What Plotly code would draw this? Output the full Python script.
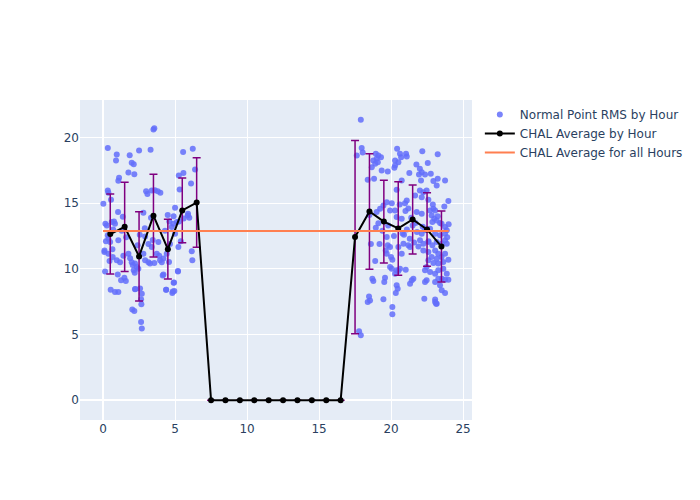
import plotly.graph_objects as go

# Scatter: Normal Point RMS by Hour (hour, rms)
pt_hour = [
    3.5, 3.56, 0.33, 0.95, 0.9, 1.85, 2.5, 3.3, 1.99, 2.13, 1.76, 2.17, 1.11, 1.06,
    0.33, 0.37, 0.55, 0.02, 1.04, 1.37, 0.76, 0.16, 2.99, 3.08, 3.38, 3.6, 3.8, 3.98,
    2.8, 3.33, 4.49, 5.0, 4.9, 5.56, 6.23, 6.39, 6.11, 5.26, 5.58, 5.32, 5.88, 5.99,
    5.28, 5.6,
    0.26, 0.6, 0.83, 0.33, 0.37, 0.49, 0.09, 0.37, 0.65, 0.67, 1.06, 0.95, 1.18,
    1.41, 1.76, 1.88, 0.14, 1.02, 1.25, 1.48, 1.58, 0.53, 0.83, 1.06, 1.99, 2.22,
    2.34, 2.45, 2.06, 2.13, 2.2, 2.22, 2.03, 2.17, 2.64, 2.66, 2.64, 2.69, 2.92,
    3.15, 3.38, 2.8, 2.92, 3.15, 3.26, 3.56, 3.96, 4.08, 3.73, 3.84, 4.19, 4.38,
    4.9, 4.95, 4.81, 5.2, 4.42, 4.19, 4.58, 5.0, 4.77, 5.23, 4.65, 6.16, 6.2, 5.12,
    4.88, 2.24, 2.57, 2.69, 4.38, 4.84, 4.93, 5.2, 4.14,
    0.1, 0.2, 0.45, 0.7, 1.3, 1.6, 2.4, 2.55, 2.9, 3.45, 3.9, 4.3, 4.6, 5.4, 5.9,
    17.9, 17.96, 18.03, 17.62, 18.94, 19.12, 19.3, 19.0, 18.77, 18.9, 18.66, 19.08,
    19.35, 19.77, 18.38, 18.82, 20.42, 20.62, 21.04, 21.09, 20.7, 20.28, 20.51,
    20.28, 20.23, 22.17, 23.24, 21.76, 22.55, 22.0, 22.13, 22.36, 22.76, 21.94,
    21.27, 22.08, 22.94, 23.24, 23.75, 23.17, 20.39, 20.74, 19.7, 20.05, 19.93,
    20.28, 21.09, 20.97, 21.67, 22.0, 22.24, 22.47, 22.59, 22.13, 23.98, 23.7,
    22.94, 22.71, 23.06, 19.24, 19.47, 19.0, 20.39, 20.74, 21.78, 22.13, 22.82,
    23.0, 23.24,
    18.94, 19.12, 19.7, 19.77, 19.93, 19.63, 19.7, 20.51, 20.86, 20.74, 21.2, 21.32,
    20.0, 20.09, 19.93, 20.05, 20.39, 20.51, 20.28, 20.62, 21.02, 18.7, 18.77, 19.58,
    19.53, 20.39, 20.46, 20.33, 21.32, 21.44, 21.55, 18.47, 18.38, 18.54, 19.47,
    20.09, 20.09, 17.78, 17.9, 22.31, 23.06, 23.13,
    22.87, 23.17, 23.51, 23.75, 23.87, 23.75, 23.4, 23.06, 22.71, 22.36, 22.13,
    22.01, 22.24, 22.59, 22.87, 23.17, 23.52, 23.75, 23.87, 22.24, 22.59, 23.06,
    23.28, 22.82, 23.17, 23.51, 23.75, 23.98, 23.63, 23.28, 22.94, 22.59, 22.47,
    22.36, 22.71, 23.06, 23.28, 23.63, 23.87, 23.52, 23.75, 23.98, 23.28, 23.06,
    22.47, 22.36, 23.4, 23.75, 23.52, 23.06, 23.17,
    20.9, 21.1, 21.3, 21.5, 21.6, 21.8, 21.4, 21.2, 20.8, 19.4, 19.8, 18.5, 18.6,
    20.2, 21.7, 21.9, 22.2, 22.6, 21.0, 19.2, 18.9, 20.6, 22.9, 23.4, 24.0, 23.9,
]
pt_rms = [
    20.6, 20.7, 19.2, 18.7, 18.25, 18.65, 19.0, 19.06, 18.07, 17.97, 17.34, 17.2, 16.93, 16.7,
    15.97, 15.8, 15.26, 14.96, 14.32, 13.97, 13.6, 13.44, 15.9, 15.7, 15.97, 15.99, 15.9, 15.8,
    14.27, 13.9, 14.1, 14.65, 14.0, 18.9, 19.14, 17.57, 16.5, 17.1, 17.3, 16.04, 14.07, 13.9,
    13.6, 13.84,
    13.3, 13.56, 13.43, 12.55, 12.3, 12.04, 11.28, 11.15, 11.5, 10.9, 12.17, 10.65, 10.5,
    11.0, 11.15, 10.8, 9.8, 9.58, 9.13, 9.33, 9.07, 8.42, 8.24, 8.24, 10.5, 10.4,
    10.14, 10.0, 10.3, 9.9, 9.7, 8.44, 6.9, 6.79, 7.68, 7.3, 5.95, 5.47, 12.47,
    11.9, 11.66, 11.15, 10.65, 10.5, 10.4, 10.44, 10.65, 10.5, 11.15, 12.04, 9.58, 8.42,
    8.95, 8.31, 8.16, 9.83, 11.15, 10.78, 10.52, 12.68, 13.18, 11.66, 11.9, 11.35, 10.65, 13.56,
    13.43, 8.47, 8.5, 8.1, 8.42, 8.27, 8.97, 9.8, 9.5,
    11.4, 12.1, 10.6, 13.0, 12.9, 12.4, 11.8, 12.6, 13.1, 12.2, 11.0, 12.9, 13.6, 12.1, 14.2,
    21.35, 19.2, 18.86, 18.63, 18.76, 18.63, 18.5, 18.38, 18.25, 18.0, 17.74, 18.12,
    17.49, 17.41, 16.78, 16.86, 19.14, 18.76, 18.76, 18.55, 18.5, 18.25, 18.12,
    17.87, 17.7, 18.96, 18.73, 17.95, 18.05, 17.62, 17.36, 17.19, 17.24, 17.19,
    17.29, 16.73, 16.68, 16.86, 16.73, 16.35, 16.02, 16.73, 15.08, 15.0, 14.45,
    14.45, 15.2, 15.0, 15.59, 15.97, 15.84, 15.97, 15.26, 15.46, 15.16, 14.75,
    14.58, 14.45, 14.45, 14.58, 14.83, 14.32, 13.94, 13.82, 14.32, 14.2, 14.07,
    13.82, 14.0,
    13.13, 13.48, 12.42, 11.79, 11.66, 11.4, 11.15, 11.66, 11.92, 11.15, 11.79, 11.66,
    10.9, 10.7, 10.14, 10.0, 9.89, 9.83, 9.63, 10.0, 9.94, 9.25, 9.07, 9.33,
    9.0, 8.75, 8.49, 8.16, 8.87, 9.13, 9.25, 7.9, 7.48, 7.6, 7.68,
    7.1, 6.54, 5.25, 4.94, 7.73, 7.66, 7.35,
    13.56, 13.69, 13.44, 13.18, 12.93, 12.68, 12.55, 12.68, 13.06, 12.93, 12.68,
    12.17, 11.92, 12.04, 11.79, 12.04, 11.92, 12.17, 11.92, 11.4, 11.28, 11.4,
    11.15, 10.9, 10.77, 10.9, 11.15, 10.7, 10.52, 10.4, 10.44, 10.65, 10.14,
    9.89, 9.76, 9.63, 9.89, 10.01, 9.63, 9.25, 9.18, 9.18, 9.25, 9.0,
    9.13, 9.0, 8.75, 8.16, 8.37, 7.48, 7.35,
    12.6, 13.0, 12.3, 13.3, 12.0, 12.8, 13.9, 14.6, 12.7, 12.9, 13.3, 14.1, 11.9,
    12.5, 13.5, 11.7, 13.2, 12.1, 14.4, 11.9, 10.6, 14.9, 14.9, 13.5, 13.4, 12.4,
]

# CHAL average by hour (+/- std)
avg_hour = [0.5, 1.5, 2.5, 3.5, 4.5, 5.5, 6.5, 7.5, 8.5, 9.5, 10.5, 11.5, 12.5,
            13.5, 14.5, 15.5, 16.5, 17.5, 18.5, 19.5, 20.5, 21.5, 22.5, 23.5]
avg_rms = [12.65, 13.2, 10.95, 14.05, 11.5, 14.45, 15.05, 0, 0, 0, 0, 0, 0,
           0, 0, 0, 0, 12.42, 14.37, 13.6, 13.08, 13.76, 13.0, 11.7]
avg_std = [3.05, 3.4, 3.4, 3.15, 2.27, 2.46, 3.4, 0, 0, 0, 0, 0, 0,
           0, 0, 0, 0, 7.35, 4.4, 3.15, 3.56, 2.63, 2.8, 2.7]

overall_x = [0, 24]
overall_avg = 12.88

fig = go.Figure()
fig.add_trace(go.Scatter(
    x=pt_hour, y=pt_rms, mode="markers", name="Normal Point RMS by Hour",
    marker=dict(color="#636efa", size=6, opacity=0.85),
))
fig.add_trace(go.Scatter(
    x=avg_hour, y=avg_rms, mode="lines+markers", name="CHAL Average by Hour",
    line=dict(color="black", width=2),
    marker=dict(color="black", size=6),
    error_y=dict(type="data", array=avg_std, visible=True, color="purple",
                 thickness=1.5, width=4),
))
fig.add_trace(go.Scatter(
    x=overall_x, y=[overall_avg, overall_avg], mode="lines",
    name="CHAL Average for all Hours",
    line=dict(color="coral", width=2),
))
fig.update_layout(
    width=700, height=500,
    template="plotly",
    font=dict(family="DejaVu Sans", size=12),
)
fig.write_html("out.html")
